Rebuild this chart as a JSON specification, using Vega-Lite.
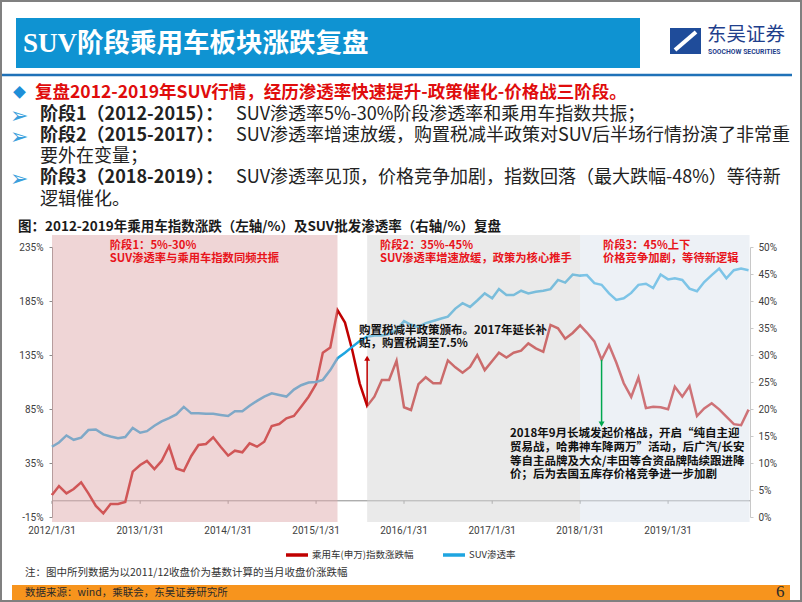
{
  "$schema": "https://vega.github.io/schema/vega-lite/v6.json",
  "width": 802,
  "height": 602,
  "autosize": {"type": "none"},
  "padding": 0,
  "background": "white",
  "config": {
    "view": {"stroke": "#808080", "strokeWidth": 4},
    "font": "Noto Sans CJK SC",
    "text": {"font": "Noto Sans CJK SC"}
  },
  "datasets": {
    "series": [
      {"date": "2012/01/31", "auto": 5.4, "suv": 13.0},
      {"date": "2012/02/29", "auto": 13.7, "suv": 13.8},
      {"date": "2012/03/31", "auto": 6.9, "suv": 15.1},
      {"date": "2012/04/30", "auto": 10.9, "suv": 14.3},
      {"date": "2012/05/31", "auto": 17.1, "suv": 14.7},
      {"date": "2012/06/30", "auto": 6.9, "suv": 16.1},
      {"date": "2012/07/31", "auto": -4.8, "suv": 16.2},
      {"date": "2012/08/31", "auto": -11.6, "suv": 15.3},
      {"date": "2012/09/30", "auto": -3.0, "suv": 14.9},
      {"date": "2012/10/31", "auto": -3.0, "suv": 14.6},
      {"date": "2012/11/30", "auto": -1.1, "suv": 14.8},
      {"date": "2012/12/31", "auto": 27.0, "suv": 16.5},
      {"date": "2013/01/31", "auto": 33.1, "suv": 15.6},
      {"date": "2013/02/28", "auto": 36.9, "suv": 15.9},
      {"date": "2013/03/31", "auto": 29.4, "suv": 16.9},
      {"date": "2013/04/30", "auto": 36.9, "suv": 17.7},
      {"date": "2013/05/31", "auto": 50.7, "suv": 18.3},
      {"date": "2013/06/30", "auto": 30.0, "suv": 19.0},
      {"date": "2013/07/31", "auto": 27.6, "suv": 20.4},
      {"date": "2013/08/31", "auto": 41.5, "suv": 19.2},
      {"date": "2013/09/30", "auto": 51.7, "suv": 19.2},
      {"date": "2013/10/31", "auto": 52.6, "suv": 19.1},
      {"date": "2013/11/30", "auto": 58.8, "suv": 19.1},
      {"date": "2013/12/31", "auto": 50.1, "suv": 18.9},
      {"date": "2014/01/31", "auto": 41.8, "suv": 18.7},
      {"date": "2014/02/28", "auto": 46.4, "suv": 19.6},
      {"date": "2014/03/31", "auto": 44.9, "suv": 19.6},
      {"date": "2014/04/30", "auto": 53.2, "suv": 20.6},
      {"date": "2014/05/31", "auto": 50.1, "suv": 21.5},
      {"date": "2014/06/30", "auto": 54.7, "suv": 22.3},
      {"date": "2014/07/31", "auto": 69.3, "suv": 22.9},
      {"date": "2014/08/31", "auto": 71.1, "suv": 22.6},
      {"date": "2014/09/30", "auto": 76.4, "suv": 22.3},
      {"date": "2014/10/31", "auto": 78.5, "suv": 23.6},
      {"date": "2014/11/30", "auto": 87.1, "suv": 24.4},
      {"date": "2014/12/31", "auto": 96.4, "suv": 24.9},
      {"date": "2015/01/31", "auto": 108.0, "suv": 25.0},
      {"date": "2015/02/28", "auto": 137.0, "suv": 25.4},
      {"date": "2015/03/31", "auto": 142.0, "suv": 27.2},
      {"date": "2015/04/30", "auto": 176.5, "suv": 29.4},
      {"date": "2015/05/31", "auto": 165.0, "suv": 30.4},
      {"date": "2015/06/30", "auto": 139.6, "suv": 31.5},
      {"date": "2015/07/31", "auto": 108.8, "suv": 32.6},
      {"date": "2015/08/31", "auto": 87.8, "suv": 33.4},
      {"date": "2015/09/30", "auto": 96.4, "suv": 33.6},
      {"date": "2015/10/31", "auto": 111.9, "suv": 33.6},
      {"date": "2015/11/30", "auto": 111.9, "suv": 33.9},
      {"date": "2015/12/31", "auto": 129.7, "suv": 34.6},
      {"date": "2016/01/31", "auto": 86.6, "suv": 36.3},
      {"date": "2016/02/29", "auto": 84.1, "suv": 35.6},
      {"date": "2016/03/31", "auto": 108.1, "suv": 35.2},
      {"date": "2016/04/30", "auto": 114.4, "suv": 35.9},
      {"date": "2016/05/31", "auto": 108.8, "suv": 36.3},
      {"date": "2016/06/30", "auto": 108.8, "suv": 36.7},
      {"date": "2016/07/31", "auto": 130.0, "suv": 37.1},
      {"date": "2016/08/31", "auto": 123.6, "suv": 38.6},
      {"date": "2016/09/30", "auto": 118.6, "suv": 39.6},
      {"date": "2016/10/31", "auto": 124.0, "suv": 38.9},
      {"date": "2016/11/30", "auto": 135.0, "suv": 40.1},
      {"date": "2016/12/31", "auto": 121.0, "suv": 41.4},
      {"date": "2017/01/31", "auto": 129.5, "suv": 40.5},
      {"date": "2017/02/28", "auto": 137.1, "suv": 42.2},
      {"date": "2017/03/31", "auto": 132.6, "suv": 41.1},
      {"date": "2017/04/30", "auto": 137.1, "suv": 41.1},
      {"date": "2017/05/31", "auto": 139.0, "suv": 41.9},
      {"date": "2017/06/30", "auto": 145.8, "suv": 41.4},
      {"date": "2017/07/31", "auto": 141.2, "suv": 41.7},
      {"date": "2017/08/31", "auto": 138.0, "suv": 41.9},
      {"date": "2017/09/30", "auto": 162.8, "suv": 42.2},
      {"date": "2017/10/31", "auto": 159.7, "suv": 43.9},
      {"date": "2017/11/30", "auto": 150.0, "suv": 43.4},
      {"date": "2017/12/31", "auto": 155.4, "suv": 44.9},
      {"date": "2018/01/31", "auto": 162.4, "suv": 44.7},
      {"date": "2018/02/28", "auto": 155.8, "suv": 44.8},
      {"date": "2018/03/31", "auto": 147.6, "suv": 43.3},
      {"date": "2018/04/30", "auto": 130.6, "suv": 43.0},
      {"date": "2018/05/31", "auto": 144.3, "suv": 41.4},
      {"date": "2018/06/30", "auto": 128.0, "suv": 40.2},
      {"date": "2018/07/31", "auto": 108.8, "suv": 40.5},
      {"date": "2018/08/31", "auto": 96.2, "suv": 41.5},
      {"date": "2018/09/30", "auto": 114.2, "suv": 43.0},
      {"date": "2018/10/31", "auto": 85.8, "suv": 43.2},
      {"date": "2018/11/30", "auto": 87.1, "suv": 42.4},
      {"date": "2018/12/31", "auto": 86.6, "suv": 44.9},
      {"date": "2019/01/31", "auto": 84.7, "suv": 44.0},
      {"date": "2019/02/28", "auto": 105.6, "suv": 44.2},
      {"date": "2019/03/31", "auto": 96.4, "suv": 43.9},
      {"date": "2019/04/30", "auto": 106.3, "suv": 42.3},
      {"date": "2019/05/31", "auto": 78.5, "suv": 41.8},
      {"date": "2019/06/30", "auto": 85.6, "suv": 43.5},
      {"date": "2019/07/31", "auto": 90.3, "suv": 44.8},
      {"date": "2019/08/31", "auto": 84.7, "suv": 46.0},
      {"date": "2019/09/30", "auto": 77.9, "suv": 44.2},
      {"date": "2019/10/31", "auto": 71.0, "suv": 45.7},
      {"date": "2019/11/30", "auto": 70.0, "suv": 46.0},
      {"date": "2019/12/31", "auto": 84.4, "suv": 45.7}
    ],
    "regions": [
      {"start": "2012/01/31", "end": "2015/04/30", "stage": "阶段1"},
      {"start": "2015/08/31", "end": "2018/01/31", "stage": "阶段2"},
      {"start": "2018/01/31", "end": "2020/01/04", "stage": "阶段3"}
    ],
    "stagelabels": [
      {"date": "2012/09/27", "v": 235.9, "text": "阶段1：5%-30%"},
      {"date": "2012/09/27", "v": 223.9, "text": "SUV渗透率与乘用车指数同频共振"},
      {"date": "2015/10/23", "v": 235.9, "text": "阶段2：35%-45%"},
      {"date": "2015/10/23", "v": 223.9, "text": "SUV渗透率增速放缓，政策为核心推手"},
      {"date": "2018/05/06", "v": 235.9, "text": "阶段3：45%上下"},
      {"date": "2018/05/06", "v": 223.9, "text": "价格竞争加剧，等待新逻辑"}
    ],
    "notes": [
      {"date": "2015/07/28", "v": 157.4, "text": "购置税减半政策颁布。2017年延长补"},
      {"date": "2015/07/28", "v": 145.2, "text": "贴，购置税调至7.5%"},
      {"date": "2017/04/15", "v": 61.9, "text": "2018年9月长城发起价格战，开启“纯自主迎"},
      {"date": "2017/04/15", "v": 49.1, "text": "贸易战，哈弗神车降两万”活动，后广汽/长安"},
      {"date": "2017/04/15", "v": 36.3, "text": "等自主品牌及大众/丰田等合资品牌陆续跟进降"},
      {"date": "2017/04/15", "v": 23.5, "text": "价；后为去国五库存价格竞争进一步加剧"}
    ],
    "arrows": [
      {"date": "2015/08/31", "from": 87.8, "to": 132, "kind": "政策"},
      {"date": "2018/04/30", "from": 130.6, "to": 71, "kind": "价格战"}
    ],
    "yearticks": [
      {"date": "2012/01/31"}, {"date": "2013/01/31"}, {"date": "2014/01/31"}, {"date": "2015/01/31"},
      {"date": "2016/01/31"}, {"date": "2017/01/31"}, {"date": "2018/01/31"}, {"date": "2019/01/31"}
    ]
  },
  "resolve": {"scale": {"y": "independent"}},
  "layer": [
    {
      "data": {"values": [{}]},
      "mark": {"type": "rect", "fill": "#0F93D2"},
      "encoding": {"x": {"value": 16}, "x2": {"value": 640}, "y": {"value": 18}, "y2": {"value": 68}}
    },
    {
      "data": {"values": [{}]},
      "mark": {"type": "text", "text": "SUV", "font": "Liberation Serif", "fontSize": 27, "fontWeight": "bold", "fill": "white", "align": "left", "baseline": "middle"},
      "encoding": {"x": {"value": 23}, "y": {"value": 44}}
    },
    {
      "data": {"values": [{}]},
      "mark": {"type": "text", "text": "阶段乘用车板块涨跌复盘", "fontSize": 26.5, "fontWeight": "bold", "fill": "white", "align": "left", "baseline": "middle"},
      "encoding": {"x": {"value": 77}, "y": {"value": 44}}
    },
    {
      "data": {"values": [{}]},
      "mark": {"type": "rect", "fill": "#1F4C9A"},
      "encoding": {"x": {"value": 670}, "x2": {"value": 701}, "y": {"value": 28}, "y2": {"value": 54}}
    },
    {
      "data": {"values": [{}]},
      "mark": {"type": "rule", "stroke": "white", "strokeWidth": 4},
      "encoding": {"x": {"value": 675}, "x2": {"value": 696}, "y": {"value": 50}, "y2": {"value": 32}}
    },
    {
      "data": {"values": [{}]},
      "mark": {"type": "text", "text": "东吴证券", "fontSize": 19.5, "fill": "#1F3F8C", "align": "left", "baseline": "middle"},
      "encoding": {"x": {"value": 707}, "y": {"value": 35}}
    },
    {
      "data": {"values": [{}]},
      "mark": {"type": "text", "text": "SOOCHOW SECURITIES", "font": "Roboto", "fontSize": 6.8, "fontWeight": "bold", "fill": "#1F3F8C", "align": "left", "baseline": "middle"},
      "encoding": {"x": {"value": 708}, "y": {"value": 52}}
    },
    {
      "data": {"values": [{}]},
      "mark": {"type": "rule", "stroke": "#1F72B8", "strokeWidth": 2.5},
      "encoding": {"x": {"value": 2}, "x2": {"value": 792}, "y": {"value": 75}, "y2": {"value": 75}}
    },
    {
      "data": {"values": [{}]},
      "mark": {"type": "text", "text": "◆", "fontSize": 13, "fill": "#1E8FD8", "align": "left", "baseline": "middle"},
      "encoding": {"x": {"value": 13}, "y": {"value": 93}}
    },
    {
      "data": {"values": [{}]},
      "mark": {"type": "text", "text": "复盘2012-2019年SUV行情，经历渗透率快速提升-政策催化-价格战三阶段。", "fontSize": 17.5, "fontWeight": "bold", "fill": "#E00C0C", "align": "left", "baseline": "middle"},
      "encoding": {"x": {"value": 35}, "y": {"value": 93}}
    },
    {
      "data": {"values": [{}]},
      "mark": {"type": "text", "text": "➢", "font": "DejaVu Sans", "fontSize": 22, "fill": "#3A9FDC", "align": "left", "baseline": "middle"},
      "encoding": {"x": {"value": 10}, "y": {"value": 116}}
    },
    {
      "data": {"values": [{}]},
      "mark": {"type": "text", "text": "➢", "font": "DejaVu Sans", "fontSize": 22, "fill": "#3A9FDC", "align": "left", "baseline": "middle"},
      "encoding": {"x": {"value": 10}, "y": {"value": 137}}
    },
    {
      "data": {"values": [{}]},
      "mark": {"type": "text", "text": "➢", "font": "DejaVu Sans", "fontSize": 22, "fill": "#3A9FDC", "align": "left", "baseline": "middle"},
      "encoding": {"x": {"value": 10}, "y": {"value": 179}}
    },
    {
      "data": {"values": [{}]},
      "mark": {"type": "text", "text": "阶段1（2012-2015）：", "fontSize": 18, "fontWeight": "bold", "fill": "#222222", "align": "left", "baseline": "middle"},
      "encoding": {"x": {"value": 40}, "y": {"value": 115}}
    },
    {
      "data": {"values": [{}]},
      "mark": {"type": "text", "text": "SUV渗透率5%-30%阶段渗透率和乘用车指数共振；", "fontSize": 18, "fill": "#222222", "align": "left", "baseline": "middle"},
      "encoding": {"x": {"value": 236}, "y": {"value": 115}}
    },
    {
      "data": {"values": [{}]},
      "mark": {"type": "text", "text": "阶段2（2015-2017）：", "fontSize": 18, "fontWeight": "bold", "fill": "#222222", "align": "left", "baseline": "middle"},
      "encoding": {"x": {"value": 40}, "y": {"value": 136}}
    },
    {
      "data": {"values": [{}]},
      "mark": {"type": "text", "text": "SUV渗透率增速放缓，购置税减半政策对SUV后半场行情扮演了非常重", "fontSize": 18, "fill": "#222222", "align": "left", "baseline": "middle"},
      "encoding": {"x": {"value": 236}, "y": {"value": 136}}
    },
    {
      "data": {"values": [{}]},
      "mark": {"type": "text", "text": "要外在变量；", "fontSize": 18, "fill": "#222222", "align": "left", "baseline": "middle"},
      "encoding": {"x": {"value": 40}, "y": {"value": 157}}
    },
    {
      "data": {"values": [{}]},
      "mark": {"type": "text", "text": "阶段3（2018-2019）：", "fontSize": 18, "fontWeight": "bold", "fill": "#222222", "align": "left", "baseline": "middle"},
      "encoding": {"x": {"value": 40}, "y": {"value": 178}}
    },
    {
      "data": {"values": [{}]},
      "mark": {"type": "text", "text": "SUV渗透率见顶，价格竞争加剧，指数回落（最大跌幅-48%）等待新", "fontSize": 18, "fill": "#222222", "align": "left", "baseline": "middle"},
      "encoding": {"x": {"value": 236}, "y": {"value": 178}}
    },
    {
      "data": {"values": [{}]},
      "mark": {"type": "text", "text": "逻辑催化。", "fontSize": 18, "fill": "#222222", "align": "left", "baseline": "middle"},
      "encoding": {"x": {"value": 40}, "y": {"value": 200}}
    },
    {
      "data": {"values": [{}]},
      "mark": {"type": "text", "text": "图：2012-2019年乘用车指数涨跌（左轴/%）及SUV批发渗透率（右轴/%）复盘", "fontSize": 13.5, "fontWeight": "bold", "fill": "#1A1A1A", "align": "left", "baseline": "middle"},
      "encoding": {"x": {"value": 18}, "y": {"value": 227}}
    },
    {
      "data": {"name": "yearticks"},
      "mark": {"type": "text", "font": "Roboto", "fontSize": 10, "fill": "#404040", "align": "center", "baseline": "middle"},
      "encoding": {
        "x": {
          "field": "date", "type": "temporal",
          "scale": {"domain": [{"year": 2012, "month": 1, "date": 31}, {"year": 2020, "month": 1, "date": 6}], "range": [52, 750], "nice": false},
          "axis": null
        },
        "y": {"datum": -28, "type": "quantitative", "scale": {"domain": [-15, 235], "range": [517, 247], "nice": false, "zero": false}, "axis": null},
        "text": {"field": "date", "type": "temporal", "format": "%Y/%-m/%-d"}
      }
    },
    {
      "data": {"values": [{}]},
      "mark": {"type": "rule", "stroke": "#8C8C8C", "strokeWidth": 1},
      "encoding": {
        "x": {"datum": {"year": 2012, "month": 1, "date": 31}, "type": "temporal", "axis": null},
        "x2": {"datum": {"year": 2020, "month": 1, "date": 6}},
        "y": {"datum": 0, "type": "quantitative", "scale": {"domain": [-15, 235], "range": [517, 247], "nice": false, "zero": false}, "axis": null}
      }
    },
    {
      "data": {"name": "yearticks"},
      "mark": {"type": "rule", "stroke": "#8C8C8C", "strokeWidth": 1},
      "encoding": {
        "x": {"field": "date", "type": "temporal", "axis": null},
        "y": {"datum": 0, "type": "quantitative", "scale": {"domain": [-15, 235], "range": [517, 247], "nice": false, "zero": false}, "axis": null},
        "y2": {"datum": -2.8}
      }
    },
    {
      "data": {"name": "series"},
      "mark": {"type": "line", "strokeWidth": 2.5},
      "encoding": {
        "x": {"field": "date", "type": "temporal", "axis": null},
        "y": {
          "field": "auto", "type": "quantitative",
          "scale": {"domain": [-15, 235], "range": [517, 247], "nice": false, "zero": false},
          "axis": {
            "orient": "left", "offset": -52, "title": null, "grid": false,
            "values": [-15, 35, 85, 135, 185, 235],
            "labelExpr": "datum.value + '%'",
            "domainColor": "#8C8C8C", "tickColor": "#8C8C8C", "tickSize": 3,
            "labelPadding": 6, "labelFont": "Roboto", "labelFontSize": 10, "labelColor": "#404040",
            "labelFlush": false, "labelOverlap": false
          }
        },
        "color": {
          "datum": "乘用车(申万)指数涨跌幅",
          "scale": {"domain": ["乘用车(申万)指数涨跌幅", "SUV渗透率"], "range": ["#C00000", "#1EA5E0"]},
          "legend": {
            "orient": "none", "legendX": 284, "legendY": 542, "direction": "horizontal", "title": null,
            "symbolType": "stroke", "symbolSize": 484, "symbolStrokeWidth": 3.5,
            "labelFont": "Noto Sans CJK SC", "labelFontSize": 9.5, "labelColor": "#333333",
            "labelOffset": 2, "columnPadding": 22
          }
        }
      }
    },
    {
      "data": {"name": "series"},
      "mark": {"type": "line", "strokeWidth": 2.5},
      "encoding": {
        "x": {"field": "date", "type": "temporal", "axis": null},
        "y": {
          "field": "suv", "type": "quantitative",
          "scale": {"domain": [0, 50], "range": [517, 247], "nice": false, "zero": false},
          "axis": {
            "orient": "right", "offset": -52, "title": null, "grid": false,
            "values": [0, 5, 10, 15, 20, 25, 30, 35, 40, 45, 50],
            "labelExpr": "datum.value + '%'",
            "domainColor": "#C8C8C8", "tickColor": "#C8C8C8", "tickSize": 3,
            "labelPadding": 5, "labelFont": "Roboto", "labelFontSize": 10, "labelColor": "#404040",
            "labelFlush": false, "labelOverlap": false
          }
        },
        "color": {
          "datum": "SUV渗透率",
          "scale": {"domain": ["乘用车(申万)指数涨跌幅", "SUV渗透率"], "range": ["#C00000", "#1EA5E0"]}
        }
      }
    },
    {
      "data": {"name": "regions"},
      "mark": {"type": "rect", "opacity": 0.5},
      "encoding": {
        "x": {"field": "start", "type": "temporal", "axis": null},
        "x2": {"field": "end"},
        "y": {"datum": 246.1, "type": "quantitative", "scale": {"domain": [-15, 235], "range": [517, 247], "nice": false, "zero": false}, "axis": null},
        "y2": {"datum": -19.6},
        "fill": {
          "field": "stage", "type": "nominal",
          "scale": {"domain": ["阶段1", "阶段2", "阶段3"], "range": ["#DFABAD", "#D6D6D6", "#DCE3EE"]},
          "legend": null
        }
      }
    },
    {
      "data": {"name": "stagelabels"},
      "mark": {"type": "text", "fontSize": 11.3, "fontWeight": "bold", "fill": "#E8141B", "align": "left", "baseline": "middle"},
      "encoding": {
        "x": {"field": "date", "type": "temporal", "axis": null},
        "y": {"field": "v", "type": "quantitative", "scale": {"domain": [-15, 235], "range": [517, 247], "nice": false, "zero": false}, "axis": null},
        "text": {"field": "text"}
      }
    },
    {
      "data": {"name": "notes"},
      "mark": {"type": "text", "fontSize": 11.5, "fontWeight": "bold", "fill": "#111111", "align": "left", "baseline": "middle"},
      "encoding": {
        "x": {"field": "date", "type": "temporal", "axis": null},
        "y": {"field": "v", "type": "quantitative", "scale": {"domain": [-15, 235], "range": [517, 247], "nice": false, "zero": false}, "axis": null},
        "text": {"field": "text"}
      }
    },
    {
      "data": {"name": "arrows"},
      "transform": [{"filter": "datum.kind === '政策'"}],
      "mark": {"type": "rule", "stroke": "#C00000", "strokeWidth": 1.5},
      "encoding": {
        "x": {"field": "date", "type": "temporal", "axis": null},
        "y": {"field": "from", "type": "quantitative", "scale": {"domain": [-15, 235], "range": [517, 247], "nice": false, "zero": false}, "axis": null},
        "y2": {"field": "to"}
      }
    },
    {
      "data": {"name": "arrows"},
      "transform": [{"filter": "datum.kind === '政策'"}],
      "mark": {"type": "point", "shape": "triangle-up", "filled": true, "size": 35, "fill": "#C00000", "opacity": 1},
      "encoding": {
        "x": {"field": "date", "type": "temporal", "axis": null},
        "y": {"field": "to", "type": "quantitative", "scale": {"domain": [-15, 235], "range": [517, 247], "nice": false, "zero": false}, "axis": null}
      }
    },
    {
      "data": {"name": "arrows"},
      "transform": [{"filter": "datum.kind === '价格战'"}],
      "mark": {"type": "rule", "stroke": "#00A84F", "strokeWidth": 1.5},
      "encoding": {
        "x": {"field": "date", "type": "temporal", "axis": null},
        "y": {"field": "from", "type": "quantitative", "scale": {"domain": [-15, 235], "range": [517, 247], "nice": false, "zero": false}, "axis": null},
        "y2": {"field": "to"}
      }
    },
    {
      "data": {"name": "arrows"},
      "transform": [{"filter": "datum.kind === '价格战'"}],
      "mark": {"type": "point", "shape": "triangle-down", "filled": true, "size": 35, "fill": "#00A84F", "opacity": 1},
      "encoding": {
        "x": {"field": "date", "type": "temporal", "axis": null},
        "y": {"field": "to", "type": "quantitative", "scale": {"domain": [-15, 235], "range": [517, 247], "nice": false, "zero": false}, "axis": null}
      }
    },
    {
      "data": {"values": [{}]},
      "mark": {"type": "text", "text": "注：图中所列数据为以2011/12收盘价为基数计算的当月收盘价涨跌幅", "fontSize": 10.5, "fill": "#333333", "align": "left", "baseline": "middle"},
      "encoding": {"x": {"value": 25}, "y": {"value": 573}}
    },
    {
      "data": {"values": [{}]},
      "mark": {"type": "rect", "fill": "#F7941D"},
      "encoding": {"x": {"value": 12}, "x2": {"value": 790}, "y": {"value": 585}, "y2": {"value": 600}}
    },
    {
      "data": {"values": [{}]},
      "mark": {"type": "text", "text": "数据来源：wind，乘联会，东吴证券研究所", "fontSize": 10.5, "fill": "#2A2A2A", "align": "left", "baseline": "middle"},
      "encoding": {"x": {"value": 25}, "y": {"value": 593}}
    },
    {
      "data": {"values": [{}]},
      "mark": {"type": "text", "text": "6", "font": "Liberation Serif", "fontSize": 17, "fill": "#2A2A2A", "align": "left", "baseline": "middle"},
      "encoding": {"x": {"value": 776}, "y": {"value": 592}}
    }
  ]
}
